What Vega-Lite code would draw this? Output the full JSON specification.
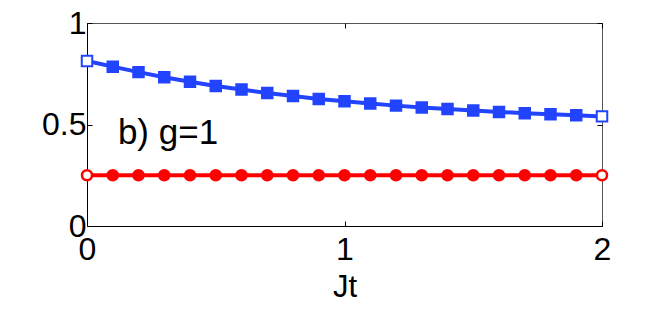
{
  "$schema": "https://vega.github.io/schema/vega-lite/v6.json",
  "width": 515,
  "height": 203,
  "autosize": "none",
  "padding": {"left": 87, "top": 23, "right": 62, "bottom": 85},
  "background": "white",
  "config": {
    "view": {"stroke": "#555555", "strokeWidth": 1},
    "font": "Liberation Sans",
    "axis": {
      "grid": false,
      "domainColor": "black",
      "domainWidth": 1,
      "tickColor": "black",
      "tickSize": -5,
      "labelFont": "Liberation Sans",
      "labelFontSize": 32,
      "labelColor": "black",
      "labelFlush": false,
      "labelOverlap": false,
      "labelBound": false,
      "titleFont": "Liberation Sans",
      "titleColor": "black",
      "titleFontWeight": "normal"
    }
  },
  "datasets": {
    "series": [
      {"Jt": 0.0, "value": 0.813, "series": "blue"},
      {"Jt": 0.1, "value": 0.785, "series": "blue"},
      {"Jt": 0.2, "value": 0.758, "series": "blue"},
      {"Jt": 0.3, "value": 0.733, "series": "blue"},
      {"Jt": 0.4, "value": 0.711, "series": "blue"},
      {"Jt": 0.5, "value": 0.690, "series": "blue"},
      {"Jt": 0.6, "value": 0.672, "series": "blue"},
      {"Jt": 0.7, "value": 0.655, "series": "blue"},
      {"Jt": 0.8, "value": 0.640, "series": "blue"},
      {"Jt": 0.9, "value": 0.626, "series": "blue"},
      {"Jt": 1.0, "value": 0.615, "series": "blue"},
      {"Jt": 1.1, "value": 0.603, "series": "blue"},
      {"Jt": 1.2, "value": 0.593, "series": "blue"},
      {"Jt": 1.3, "value": 0.584, "series": "blue"},
      {"Jt": 1.4, "value": 0.576, "series": "blue"},
      {"Jt": 1.5, "value": 0.569, "series": "blue"},
      {"Jt": 1.6, "value": 0.562, "series": "blue"},
      {"Jt": 1.7, "value": 0.556, "series": "blue"},
      {"Jt": 1.8, "value": 0.550, "series": "blue"},
      {"Jt": 1.9, "value": 0.545, "series": "blue"},
      {"Jt": 2.0, "value": 0.540, "series": "blue"},
      {"Jt": 0.0, "value": 0.25, "series": "red"},
      {"Jt": 0.1, "value": 0.25, "series": "red"},
      {"Jt": 0.2, "value": 0.25, "series": "red"},
      {"Jt": 0.3, "value": 0.25, "series": "red"},
      {"Jt": 0.4, "value": 0.25, "series": "red"},
      {"Jt": 0.5, "value": 0.25, "series": "red"},
      {"Jt": 0.6, "value": 0.25, "series": "red"},
      {"Jt": 0.7, "value": 0.25, "series": "red"},
      {"Jt": 0.8, "value": 0.25, "series": "red"},
      {"Jt": 0.9, "value": 0.25, "series": "red"},
      {"Jt": 1.0, "value": 0.25, "series": "red"},
      {"Jt": 1.1, "value": 0.25, "series": "red"},
      {"Jt": 1.2, "value": 0.25, "series": "red"},
      {"Jt": 1.3, "value": 0.25, "series": "red"},
      {"Jt": 1.4, "value": 0.25, "series": "red"},
      {"Jt": 1.5, "value": 0.25, "series": "red"},
      {"Jt": 1.6, "value": 0.25, "series": "red"},
      {"Jt": 1.7, "value": 0.25, "series": "red"},
      {"Jt": 1.8, "value": 0.25, "series": "red"},
      {"Jt": 1.9, "value": 0.25, "series": "red"},
      {"Jt": 2.0, "value": 0.25, "series": "red"}
    ],
    "label": [{"Jt": 0.12, "value": 0.405, "text": "b) g=1"}]
  },
  "layer": [
    {
      "data": {"name": "series"},
      "transform": [{"filter": "datum.series == 'blue'"}],
      "mark": {"type": "line", "color": "#2244ff", "strokeWidth": 4, "clip": false},
      "encoding": {
        "x": {"field": "Jt", "type": "quantitative", "scale": {"domain": [0, 2], "nice": false, "zero": false},
              "axis": {"orient": "bottom", "values": [0, 1, 2], "format": "~g", "title": "Jt", "titleFontSize": 31, "labelPadding": 13, "titlePadding": 7}},
        "y": {"field": "value", "type": "quantitative", "scale": {"domain": [0, 1], "nice": false},
              "axis": {"orient": "left", "values": [0, 0.5, 1], "format": "~g", "title": null, "labelPadding": 6}}
      }
    },
    {
      "data": {"name": "series"},
      "transform": [{"filter": "datum.series == 'red'"}],
      "mark": {"type": "line", "color": "#ff0000", "strokeWidth": 4, "clip": false},
      "encoding": {
        "x": {"field": "Jt", "type": "quantitative",
              "axis": {"orient": "top", "values": [0, 1, 2], "labels": false, "domain": false, "title": null}},
        "y": {"field": "value", "type": "quantitative",
              "axis": {"orient": "right", "values": [0, 0.5, 1], "labels": false, "domain": false, "title": null}}
      }
    },
    {
      "data": {"name": "series"},
      "transform": [{"filter": "datum.series == 'blue'"}],
      "mark": {"type": "point", "shape": "square", "size": 110, "stroke": "#2244ff", "strokeWidth": 2, "opacity": 1, "clip": false},
      "encoding": {
        "x": {"field": "Jt", "type": "quantitative", "axis": null},
        "y": {"field": "value", "type": "quantitative", "axis": null},
        "fill": {"condition": {"test": "datum.Jt == 0 || datum.Jt == 2", "value": "white"}, "value": "#2244ff"}
      }
    },
    {
      "data": {"name": "series"},
      "transform": [{"filter": "datum.series == 'red'"}],
      "mark": {"type": "point", "shape": "circle", "size": 100, "stroke": "#ff0000", "strokeWidth": 2.5, "opacity": 1, "clip": false},
      "encoding": {
        "x": {"field": "Jt", "type": "quantitative", "axis": null},
        "y": {"field": "value", "type": "quantitative", "axis": null},
        "fill": {"condition": {"test": "datum.Jt == 0 || datum.Jt == 2", "value": "white"}, "value": "#ff0000"}
      }
    },
    {
      "data": {"name": "label"},
      "mark": {"type": "text", "align": "left", "baseline": "alphabetic", "fontSize": 35, "font": "Liberation Sans", "color": "black"},
      "encoding": {
        "x": {"field": "Jt", "type": "quantitative", "axis": null},
        "y": {"field": "value", "type": "quantitative", "axis": null},
        "text": {"field": "text"}
      }
    }
  ],
  "resolve": {"axis": {"x": "independent", "y": "independent"}}
}
